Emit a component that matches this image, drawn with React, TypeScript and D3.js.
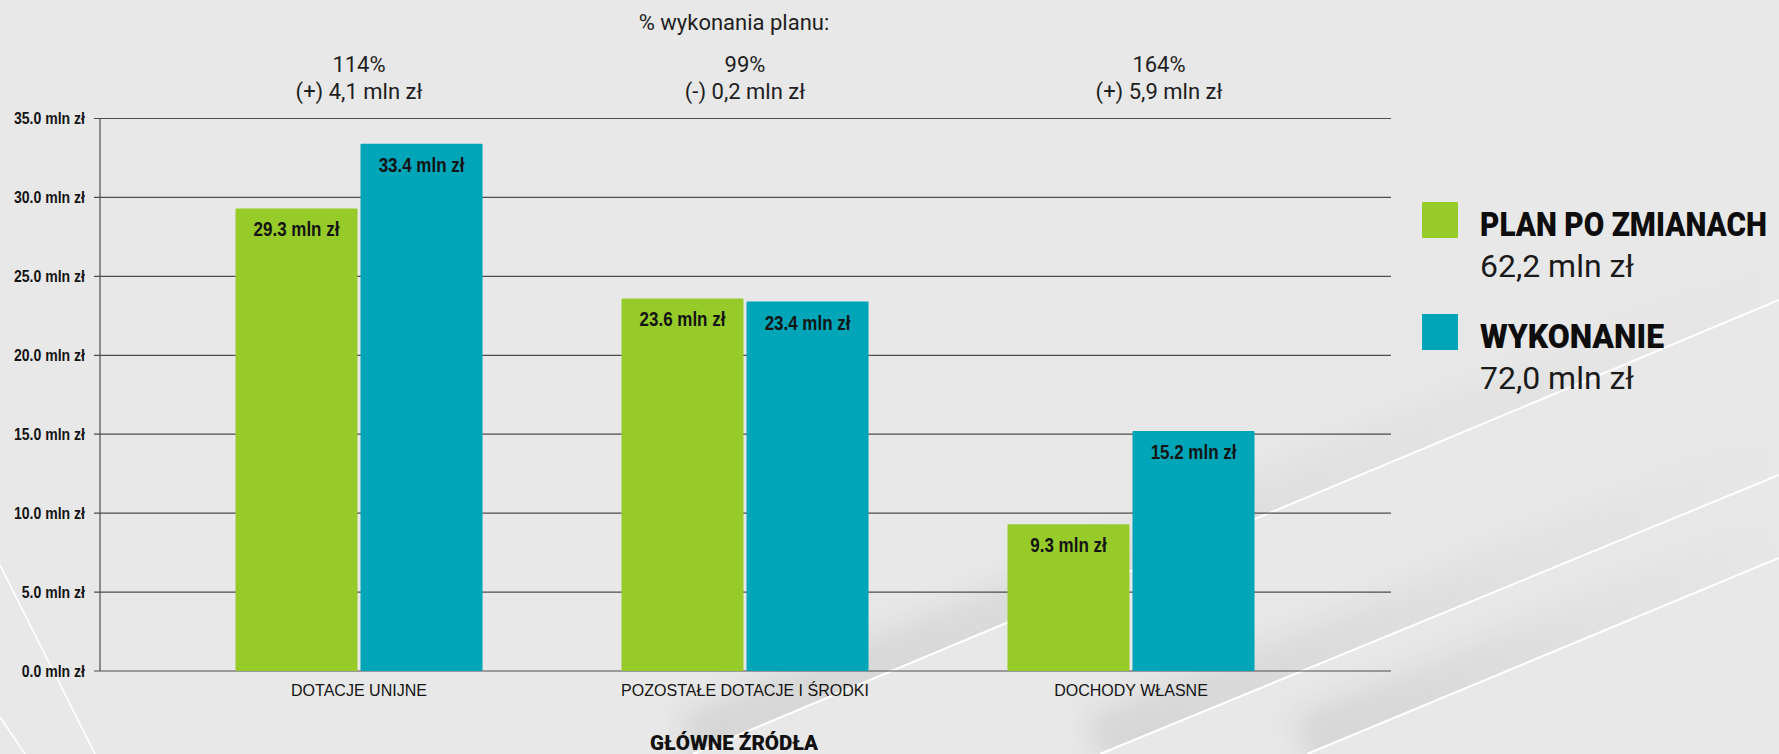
import React from "react";
import * as d3 from "d3";

const categories = ["DOTACJE UNIJNE", "POZOSTAŁE DOTACJE I ŚRODKI", "DOCHODY WŁASNE"];
const seriesNames = ["PLAN PO ZMIANACH", "WYKONANIE"];
const planValues = [29.3, 23.6, 9.3];
const executionValues = [33.4, 23.4, 15.2];
const yTicks = [0, 5, 10, 15, 20, 25, 30, 35];
const percentLabels = ["114%", "99%", "164%"];
const diffLabels = ["(+) 4,1 mln zł", "(-) 0,2 mln zł", "(+) 5,9 mln zł"];
const legendTotals = ["62,2 mln zł", "72,0 mln zł"];
const headerTitle = "% wykonania planu:";
const axisTitle = "GŁÓWNE ŹRÓDŁA";

const W = 1779;
const H = 754;
const colors = ["#96cb2a", "#00a5b7"];
const headerDx = [0, 0, 28];
const NARROW = "'Liberation Sans Narrow', 'Arial Narrow', 'Liberation Sans', Arial, sans-serif";
const HUMAN = "Roboto, 'Open Sans', 'Noto Sans', sans-serif";

// decorative background creases: [x1, y1, x2, y2]
const creases = [
  [693, 754, 1779, 300],
  [1100, 754, 1779, 475],
  [1307, 754, 1779, 558],
];
const leftCreases = [
  [0, 565, 95, 754],
  [0, 717, 25, 754],
];

function NarrowText(props: {
  x: number;
  y: number;
  sx: number;
  anchor?: string;
  size: number;
  weight?: number;
  dy?: string;
  children: React.ReactNode;
}) {
  return (
    <text
      transform={`translate(${props.x},${props.y}) scale(${props.sx},1)`}
      x={0}
      y={0}
      dy={props.dy}
      textAnchor={props.anchor || "middle"}
      fontFamily={NARROW}
      fontWeight={props.weight || 400}
      fontSize={props.size}
      fill="#141414"
    >
      {props.children}
    </text>
  );
}

export default function App() {
  const y = d3.scaleLinear().domain([0, 35]).range([671, 118.5]);
  const x0 = d3.scaleBand<string>().domain(categories).range([166, 1324]).paddingInner(0.36).paddingOuter(0.18);
  const x1 = d3.scaleBand<string>().domain(seriesNames).range([0, x0.bandwidth()]).paddingInner(0.024);
  const fmt = d3.format(".1f");
  const seriesValues = [planValues, executionValues];
  const axisLeft = 100;
  const gridRight = 1391;

  const geo = creases.map((c) => {
    const dx = c[2] - c[0];
    const dy = c[3] - c[1];
    const len = Math.hypot(dx, dy);
    const ux = dx / len;
    const uy = dy / len;
    const nx = uy; // normal pointing up-left
    const ny = -ux;
    const a = [c[0] - ux * 300, c[1] - uy * 300];
    const b = [c[2] + ux * 300, c[3] + uy * 300];
    const clip = `${a[0]},${a[1]} ${b[0]},${b[1]} ${b[0] + nx * 600},${b[1] + ny * 600} ${a[0] + nx * 600},${a[1] + ny * 600}`;
    const band = `${c[0] - nx * 25},${c[1] - ny * 25} ${c[2] - nx * 25},${c[3] - ny * 25} ${c[2] + nx * 40},${c[3] + ny * 40} ${c[0] + nx * 40},${c[1] + ny * 40}`;
    return { clip, band };
  });

  return (
    <svg
      width={W}
      height={H}
      style={{ position: "fixed", left: 0, top: 0, display: "block" }}
      xmlns="http://www.w3.org/2000/svg"
    >
      <defs>
        <filter id="soft" x="-20%" y="-50%" width="140%" height="200%">
          <feGaussianBlur stdDeviation="14" />
        </filter>
        <linearGradient id="shadeAlong" x1="0" y1="0" x2="1" y2="0">
          <stop offset="0" stopColor="#000" stopOpacity={0.08} />
          <stop offset="0.5" stopColor="#000" stopOpacity={0.04} />
          <stop offset="1" stopColor="#000" stopOpacity={0} />
        </linearGradient>
        {geo.map((g, i) => (
          <clipPath id={`above${i}`} key={i}>
            <polygon points={g.clip} />
          </clipPath>
        ))}
      </defs>

      <rect x={0} y={0} width={W} height={H} fill="#e8e8e8" />

      {geo.map((g, i) => (
        <g key={`s${i}`} clipPath={`url(#above${i})`}>
          <polygon points={g.band} fill="url(#shadeAlong)" filter="url(#soft)" />
        </g>
      ))}
      {creases.map((c, i) => (
        <line key={`c${i}`} x1={c[0]} y1={c[1]} x2={c[2]} y2={c[3]} stroke="#ffffff" strokeWidth={2} />
      ))}
      {leftCreases.map((c, i) => (
        <line key={`l${i}`} x1={c[0]} y1={c[1]} x2={c[2]} y2={c[3]} stroke="#ffffff" strokeWidth={1.6} />
      ))}

      {/* gridlines and y ticks */}
      {yTicks.map((t) => (
        <g key={`g${t}`}>
          <line x1={axisLeft - 6} x2={gridRight} y1={y(t)} y2={y(t)} stroke="#4d4d4d" strokeWidth={1.2} />
          <NarrowText x={85} y={y(t)} dy="0.36em" sx={0.89} anchor="end" size={15.8} weight={700}>
            {`${fmt(t)} mln zł`}
          </NarrowText>
        </g>
      ))}
      <line x1={axisLeft} x2={axisLeft} y1={y(35)} y2={y(0)} stroke="#4d4d4d" strokeWidth={1.2} />

      {/* bars */}
      {categories.map((c, ci) =>
        seriesNames.map((s, si) => {
          const v = seriesValues[si][ci];
          const bx = (x0(c) as number) + (x1(s) as number);
          const bw = x1.bandwidth();
          return (
            <g key={`${c}-${s}`}>
              <rect x={bx} y={y(v)} width={bw} height={y(0) - y(v)} fill={colors[si]} rx={1} />
              <NarrowText x={bx + bw / 2} y={y(v) + 28} sx={0.87} size={19.5} weight={700}>
                {`${fmt(v)} mln zł`}
              </NarrowText>
            </g>
          );
        })
      )}

      {/* category labels */}
      {categories.map((c) => (
        <NarrowText key={`cl${c}`} x={(x0(c) as number) + x0.bandwidth() / 2} y={696} sx={0.955} size={16.8}>
          {c}
        </NarrowText>
      ))}

      {/* header annotations */}
      <text x={734} y={30} textAnchor="middle" fontFamily={HUMAN} fontSize={22} fill="#1e1e1e">
        {headerTitle}
      </text>
      {categories.map((c, i) => {
        const cx = (x0(c) as number) + x0.bandwidth() / 2 + headerDx[i];
        return (
          <g key={`h${c}`}>
            <text x={cx} y={72} textAnchor="middle" fontFamily={HUMAN} fontSize={22} fill="#1e1e1e">
              {percentLabels[i]}
            </text>
            <text x={cx} y={99} textAnchor="middle" fontFamily={HUMAN} fontSize={22} fill="#1e1e1e">
              {diffLabels[i]}
            </text>
          </g>
        );
      })}

      {/* axis title */}
      <text
        x={734}
        y={750}
        textAnchor="middle"
        fontFamily={HUMAN}
        fontWeight={900}
        fontSize={21}
        textLength={168}
        lengthAdjust="spacingAndGlyphs"
        fill="#111"
      >
        {axisTitle}
      </text>

      {/* legend */}
      {seriesNames.map((s, i) => {
        const top = 202 + i * 112;
        return (
          <g key={`lg${s}`}>
            <rect x={1422} y={top} width={36} height={36} fill={colors[i]} />
            <text
              x={1480}
              y={top + 34}
              fontFamily={HUMAN}
              fontWeight={900}
              fontSize={33}
              textLength={i === 0 ? 287 : 184}
              lengthAdjust="spacingAndGlyphs"
              fill="#0d0d0d"
            >
              {s}
            </text>
            <text
              x={1480}
              y={top + 75}
              fontFamily={HUMAN}
              fontWeight={400}
              fontSize={32}
              textLength={154}
              lengthAdjust="spacingAndGlyphs"
              fill="#1a1a1a"
            >
              {legendTotals[i]}
            </text>
          </g>
        );
      })}
    </svg>
  );
}
